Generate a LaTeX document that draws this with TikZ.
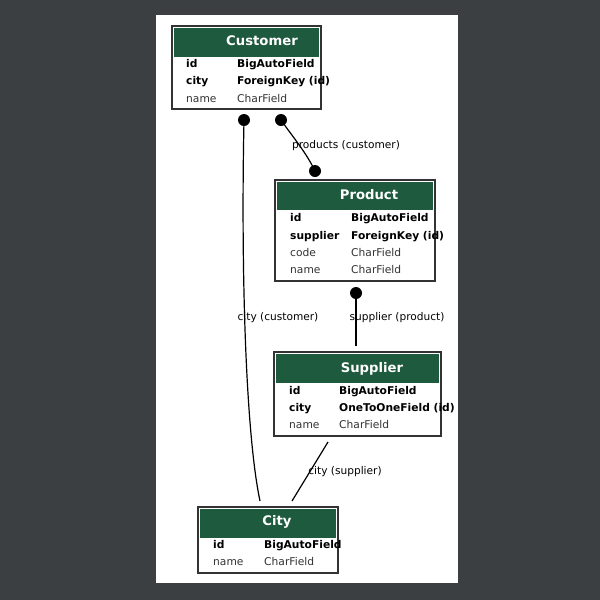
\documentclass[tikz,border=0pt]{standalone}
\usepackage{fontspec}
\setmainfont{DejaVu Sans}
\definecolor{bgdark}{HTML}{3C3F41}
\definecolor{hdrgreen}{HTML}{1E5A3E}
\definecolor{bordergray}{HTML}{333333}
\definecolor{txtgray}{HTML}{333333}
\tikzset{
  tblbox/.style={draw=bordergray, line width=1.2pt, fill=white},
  tblhead/.style={fill=hdrgreen, draw=none},
  tbltitle/.style={text=white, font=\fontsize{13.2}{15}\selectfont\bfseries, inner sep=0pt, text height=9.6pt, text depth=0pt, anchor=center},
  fkey/.style={anchor=west, inner sep=0pt, text height=7.8pt, text depth=0pt, font=\fontsize{10.7}{12}\selectfont\bfseries, text=black},
  fplain/.style={anchor=west, inner sep=0pt, text height=7.8pt, text depth=0pt, font=\fontsize{10.7}{12}\selectfont, text=txtgray},
  rellabel/.style={inner sep=0pt, text height=7.8pt, text depth=0pt, font=\fontsize{10.6}{12}\selectfont, text=black},
  rel/.style={draw=black, line width=1.2pt},
  enddot/.style={fill=black, circle, inner sep=0pt, minimum size=12pt},
}
\begin{document}
\begin{tikzpicture}[x=1pt, y=-1pt]
\useasboundingbox (0,0) rectangle (600,600);
\fill[bgdark] (0,0) rectangle (600,600);
\fill[white] (156,15) rectangle (458,583);

% Customer
\draw[tblbox] (172,26) rectangle (321,109);
\fill[tblhead] (174,28) rectangle (319,57);
\node[tbltitle] (custT) at (262,41) {Customer};
\node[fkey] (c1a) at (186,64) {id};
\node[fkey] (c1b) at (237,64) {BigAutoField};
\node[fkey] (c2a) at (186,81) {city};
\node[fkey] (c2b) at (237,81) {ForeignKey (id)};
\node[fplain] (c3a) at (186,99) {name};
\node[fplain] (c3b) at (237,99) {CharField};

% Product
\draw[tblbox] (275,180) rectangle (435,281);
\fill[tblhead] (277,182) rectangle (433,210);
\node[tbltitle] (prodT) at (369,195) {Product};
\node[fkey] (p1a) at (290,218) {id};
\node[fkey] (p1b) at (351,218) {BigAutoField};
\node[fkey] (p2a) at (290,236) {supplier};
\node[fkey] (p2b) at (351,236) {ForeignKey (id)};
\node[fplain] (p3a) at (290,253) {code};
\node[fplain] (p3b) at (351,253) {CharField};
\node[fplain] (p4a) at (290,270) {name};
\node[fplain] (p4b) at (351,270) {CharField};

% Supplier
\draw[tblbox] (274,352) rectangle (441,436);
\fill[tblhead] (276,354) rectangle (439,383);
\node[tbltitle] (supT) at (372,368) {Supplier};
\node[fkey] (s1a) at (289,391) {id};
\node[fkey] (s1b) at (339,391) {BigAutoField};
\node[fkey] (s2a) at (289,408) {city};
\node[fkey] (s2b) at (339,408) {OneToOneField (id)};
\node[fplain] (s3a) at (289,425) {name};
\node[fplain] (s3b) at (339,425) {CharField};

% City
\draw[tblbox] (198,507) rectangle (338,573);
\fill[tblhead] (200,509) rectangle (336,538);
\node[tbltitle] (cityT) at (277,521) {City};
\node[fkey] (ci1a) at (213,545) {id};
\node[fkey] (ci1b) at (264,545) {BigAutoField};
\node[fplain] (ci2a) at (213,562) {name};
\node[fplain] (ci2b) at (264,562) {CharField};

% connector end points
\coordinate (custCityEnd) at (260,501);
\coordinate (supCityStart) at (328,442);
\coordinate (supCityEnd) at (292,501);
\coordinate (prodSupEnd) at (356,346);

\node[enddot] (d1) at (244,120) {};
\node[enddot] (d2) at (281,120) {};
\node[enddot] (d3) at (315,171) {};
\node[enddot] (d4) at (356,293) {};

% relations
\draw[rel] (d1.center) .. controls (241,260) and (245,430) .. (custCityEnd);
\draw[rel] (d2.center) .. controls (292,136) and (306,152) .. (d3.center);
\draw[rel] (d4.center) -- (prodSupEnd);
\draw[rel] (supCityStart) -- (supCityEnd);

% labels
\node[rellabel] (l1) at (346,145) {products (customer)};
\node[rellabel] (l2) at (278,317) {city (customer)};
\node[rellabel] (l3) at (397,317) {supplier (product)};
\node[rellabel] (l4) at (345,471) {city (supplier)};
\end{tikzpicture}
\end{document}
